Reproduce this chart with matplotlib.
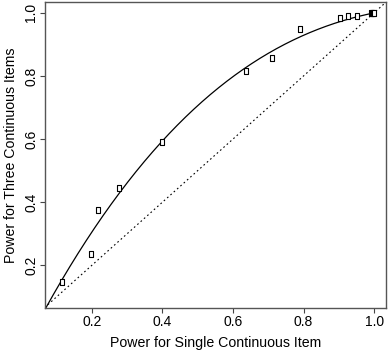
import matplotlib
matplotlib.use("Agg")
import matplotlib.pyplot as plt
import numpy as np
from matplotlib.path import Path

plt.rcParams['font.family'] = ['Liberation Sans', 'DejaVu Sans']

# observed power pairs
single_power = [0.114, 0.197, 0.218, 0.277, 0.400, 0.636, 0.712, 0.791,
                0.902, 0.926, 0.951, 0.990, 0.995, 0.998, 1.000]
three_power = [0.147, 0.235, 0.374, 0.446, 0.591, 0.815, 0.858, 0.950,
               0.984, 0.990, 0.990, 0.998, 0.999, 1.000, 1.000]

# fitted curve
curve_x = [0.067, 0.114, 0.208, 0.303, 0.400, 0.461, 0.555, 0.631,
           0.744, 0.838, 0.904, 1.000]
curve_y = [0.067, 0.147, 0.311, 0.470, 0.590, 0.670, 0.765, 0.824,
           0.892, 0.940, 0.979, 1.000]

ticks = [0.2, 0.4, 0.6, 0.8, 1.0]

fig = plt.figure(figsize=(3.88, 3.53), dpi=100)
ax = fig.add_axes([0.116, 0.127, 0.879, 0.867])

# smooth the read curve points
coef = np.polyfit(curve_x, curve_y, 3)
xs = np.linspace(curve_x[0], curve_x[-1], 200)
ax.plot(xs, np.polyval(coef, xs), color='black', lw=0.9)

ax.plot([0, 1.1], [0, 1.1], color='black', lw=0.8, ls=(0, (1.5, 2.5)))

rect = Path([(-0.28, -0.5), (0.28, -0.5), (0.28, 0.5), (-0.28, 0.5), (-0.28, -0.5)],
            [Path.MOVETO, Path.LINETO, Path.LINETO, Path.LINETO, Path.CLOSEPOLY])
ax.plot(single_power, three_power, ls='none', marker=rect, markersize=4,
        mfc='white', mec='black', mew=0.8)

ax.set_xlim(0.067, 1.034)
ax.set_ylim(0.064, 1.034)
ax.set_xticks(ticks)
ax.set_yticks(ticks)
ax.set_xticklabels([str(t) for t in ticks])
ax.set_yticklabels([str(t) for t in ticks], rotation=90, va='center')
ax.tick_params(length=3.5, width=0.8, colors='#444444', labelcolor='black',
               labelsize=10, pad=1.5)
for s in ax.spines.values():
    s.set_color('#555555')
    s.set_linewidth(1.0)

ax.set_xlabel('Power for Single Continuous Item', fontsize=10.2)
ax.set_ylabel('Power for Three Continuous Items', fontsize=10.2)
ax.xaxis.set_label_coords(0.5, -0.09)
ax.yaxis.set_label_coords(-0.08, 0.5)

fig.savefig('out.png', dpi=100)
